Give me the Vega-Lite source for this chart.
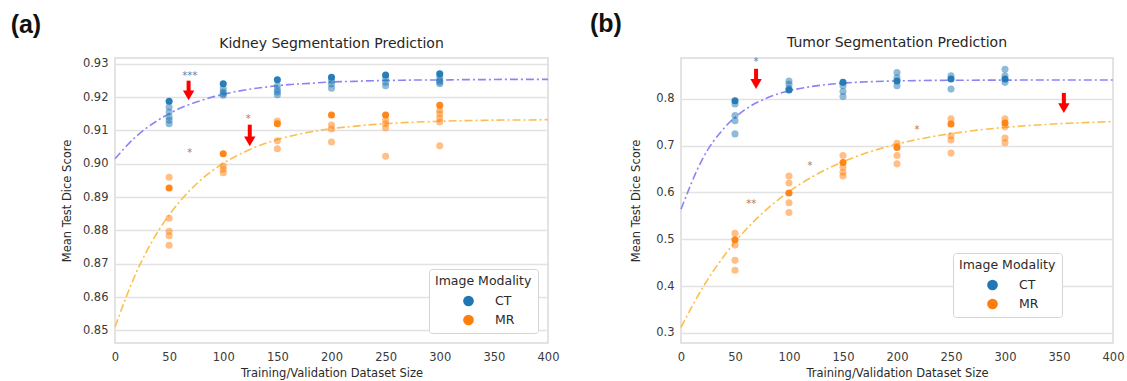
{
  "$schema": "https://vega.github.io/schema/vega-lite/v6.json",
  "background": "white",
  "padding": {"left": 10, "top": 12, "right": 5, "bottom": 2},
  "spacing": 29,
  "config": {
    "font": "DejaVu Sans",
    "view": {"stroke": "#dadada", "strokeWidth": 1.5},
    "axis": {
      "labelFont": "DejaVu Sans", "labelFontSize": 11.5, "labelColor": "#3a3a3a", "labelOverlap": false, "labelFlush": false,
      "titleFont": "DejaVu Sans", "titleFontSize": 11.5, "titleFontWeight": "normal", "titleColor": "#2a2a2a",
      "ticks": false, "domain": false, "gridColor": "#e2e2e2", "gridWidth": 1.5, "tickCount": 20
    },
    "legend": {
      "titleFont": "DejaVu Sans", "titleFontSize": 12.5, "titleFontWeight": "normal", "titleColor": "#2a2a2a", "titlePadding": 7,
      "labelFont": "DejaVu Sans", "labelFontSize": 12.5, "labelColor": "#2a2a2a",
      "strokeColor": "#d4d4d4", "fillColor": "white", "cornerRadius": 3, "padding": 6,
      "symbolType": "circle", "symbolSize": 115, "symbolOpacity": 1, "symbolOffset": 27, "labelOffset": 20, "rowPadding": 6
    },
    "title": {"font": "DejaVu Sans", "fontSize": 14, "fontWeight": "normal", "color": "#262626"}
  },
  "resolve": {"scale": {"color": "independent", "stroke": "independent", "opacity": "independent"}, "legend": {"color": "independent"}},
  "datasets": {
    "kpts": [
      {"size": 50, "score": 0.9187, "modality": "CT", "tone": "strong"},
      {"size": 50, "score": 0.917, "modality": "CT", "tone": "faint"},
      {"size": 50, "score": 0.9155, "modality": "CT", "tone": "faint"},
      {"size": 50, "score": 0.914, "modality": "CT", "tone": "faint"},
      {"size": 50, "score": 0.913, "modality": "CT", "tone": "faint"},
      {"size": 50, "score": 0.912, "modality": "CT", "tone": "faint"},
      {"size": 100, "score": 0.924, "modality": "CT", "tone": "strong"},
      {"size": 100, "score": 0.9225, "modality": "CT", "tone": "faint"},
      {"size": 100, "score": 0.9215, "modality": "CT", "tone": "faint"},
      {"size": 100, "score": 0.921, "modality": "CT", "tone": "faint"},
      {"size": 100, "score": 0.9205, "modality": "CT", "tone": "faint"},
      {"size": 150, "score": 0.9252, "modality": "CT", "tone": "strong"},
      {"size": 150, "score": 0.9234, "modality": "CT", "tone": "faint"},
      {"size": 150, "score": 0.9222, "modality": "CT", "tone": "faint"},
      {"size": 150, "score": 0.9215, "modality": "CT", "tone": "faint"},
      {"size": 150, "score": 0.9207, "modality": "CT", "tone": "faint"},
      {"size": 200, "score": 0.9259, "modality": "CT", "tone": "strong"},
      {"size": 200, "score": 0.9249, "modality": "CT", "tone": "faint"},
      {"size": 200, "score": 0.9239, "modality": "CT", "tone": "faint"},
      {"size": 200, "score": 0.9226, "modality": "CT", "tone": "faint"},
      {"size": 250, "score": 0.9266, "modality": "CT", "tone": "strong"},
      {"size": 250, "score": 0.9256, "modality": "CT", "tone": "faint"},
      {"size": 250, "score": 0.9244, "modality": "CT", "tone": "faint"},
      {"size": 250, "score": 0.9234, "modality": "CT", "tone": "faint"},
      {"size": 300, "score": 0.927, "modality": "CT", "tone": "strong"},
      {"size": 300, "score": 0.926, "modality": "CT", "tone": "faint"},
      {"size": 300, "score": 0.925, "modality": "CT", "tone": "faint"},
      {"size": 300, "score": 0.9245, "modality": "CT", "tone": "faint"},
      {"size": 300, "score": 0.924, "modality": "CT", "tone": "faint"},
      {"size": 50, "score": 0.8959, "modality": "MR", "tone": "faint"},
      {"size": 50, "score": 0.8927, "modality": "MR", "tone": "strong"},
      {"size": 50, "score": 0.8836, "modality": "MR", "tone": "faint"},
      {"size": 50, "score": 0.8797, "modality": "MR", "tone": "faint"},
      {"size": 50, "score": 0.8784, "modality": "MR", "tone": "faint"},
      {"size": 50, "score": 0.8755, "modality": "MR", "tone": "faint"},
      {"size": 100, "score": 0.903, "modality": "MR", "tone": "strong"},
      {"size": 100, "score": 0.8993, "modality": "MR", "tone": "faint"},
      {"size": 100, "score": 0.8983, "modality": "MR", "tone": "faint"},
      {"size": 100, "score": 0.8973, "modality": "MR", "tone": "faint"},
      {"size": 150, "score": 0.9128, "modality": "MR", "tone": "faint"},
      {"size": 150, "score": 0.912, "modality": "MR", "tone": "strong"},
      {"size": 150, "score": 0.9069, "modality": "MR", "tone": "faint"},
      {"size": 150, "score": 0.9045, "modality": "MR", "tone": "faint"},
      {"size": 200, "score": 0.9146, "modality": "MR", "tone": "strong"},
      {"size": 200, "score": 0.9116, "modality": "MR", "tone": "faint"},
      {"size": 200, "score": 0.9104, "modality": "MR", "tone": "faint"},
      {"size": 200, "score": 0.9065, "modality": "MR", "tone": "faint"},
      {"size": 250, "score": 0.9146, "modality": "MR", "tone": "strong"},
      {"size": 250, "score": 0.9131, "modality": "MR", "tone": "faint"},
      {"size": 250, "score": 0.912, "modality": "MR", "tone": "faint"},
      {"size": 250, "score": 0.9108, "modality": "MR", "tone": "faint"},
      {"size": 250, "score": 0.9022, "modality": "MR", "tone": "faint"},
      {"size": 300, "score": 0.9175, "modality": "MR", "tone": "strong"},
      {"size": 300, "score": 0.916, "modality": "MR", "tone": "faint"},
      {"size": 300, "score": 0.915, "modality": "MR", "tone": "faint"},
      {"size": 300, "score": 0.9137, "modality": "MR", "tone": "faint"},
      {"size": 300, "score": 0.9125, "modality": "MR", "tone": "faint"},
      {"size": 300, "score": 0.9054, "modality": "MR", "tone": "faint"}
    ],
    "kcurve": [
      {"size": 0, "score": 0.9015, "fit": "CT fit"}, {"size": 20, "score": 0.9083, "fit": "CT fit"},
      {"size": 40, "score": 0.9131, "fit": "CT fit"}, {"size": 60, "score": 0.9166, "fit": "CT fit"},
      {"size": 80, "score": 0.919, "fit": "CT fit"}, {"size": 100, "score": 0.9208, "fit": "CT fit"},
      {"size": 120, "score": 0.9221, "fit": "CT fit"}, {"size": 140, "score": 0.923, "fit": "CT fit"},
      {"size": 160, "score": 0.9237, "fit": "CT fit"}, {"size": 180, "score": 0.9241, "fit": "CT fit"},
      {"size": 200, "score": 0.9245, "fit": "CT fit"}, {"size": 220, "score": 0.9247, "fit": "CT fit"},
      {"size": 240, "score": 0.9249, "fit": "CT fit"}, {"size": 260, "score": 0.925, "fit": "CT fit"},
      {"size": 280, "score": 0.9251, "fit": "CT fit"}, {"size": 300, "score": 0.9251, "fit": "CT fit"},
      {"size": 320, "score": 0.9252, "fit": "CT fit"}, {"size": 340, "score": 0.9252, "fit": "CT fit"},
      {"size": 360, "score": 0.9253, "fit": "CT fit"}, {"size": 380, "score": 0.9253, "fit": "CT fit"},
      {"size": 400, "score": 0.9253, "fit": "CT fit"},
      {"size": 0, "score": 0.851, "fit": "MR fit"}, {"size": 20, "score": 0.8676, "fit": "MR fit"},
      {"size": 40, "score": 0.8798, "fit": "MR fit"}, {"size": 60, "score": 0.8887, "fit": "MR fit"},
      {"size": 80, "score": 0.8953, "fit": "MR fit"}, {"size": 100, "score": 0.9001, "fit": "MR fit"},
      {"size": 120, "score": 0.9036, "fit": "MR fit"}, {"size": 140, "score": 0.9062, "fit": "MR fit"},
      {"size": 160, "score": 0.9081, "fit": "MR fit"}, {"size": 180, "score": 0.9095, "fit": "MR fit"},
      {"size": 200, "score": 0.9105, "fit": "MR fit"}, {"size": 220, "score": 0.9112, "fit": "MR fit"},
      {"size": 240, "score": 0.9118, "fit": "MR fit"}, {"size": 260, "score": 0.9122, "fit": "MR fit"},
      {"size": 280, "score": 0.9125, "fit": "MR fit"}, {"size": 300, "score": 0.9127, "fit": "MR fit"},
      {"size": 320, "score": 0.9129, "fit": "MR fit"}, {"size": 340, "score": 0.913, "fit": "MR fit"},
      {"size": 360, "score": 0.9131, "fit": "MR fit"}, {"size": 380, "score": 0.9131, "fit": "MR fit"},
      {"size": 400, "score": 0.9132, "fit": "MR fit"}
    ],
    "kstars": [
      {"size": 69, "score": 0.9262, "label": "***", "modality": "CT"},
      {"size": 69, "score": 0.9032, "label": "*", "modality": "MR"},
      {"size": 123, "score": 0.9134, "label": "*", "modality": "MR"}
    ],
    "karrows": [
      {"size": 68, "top": 0.9249, "base": 0.9205},
      {"size": 124.5, "top": 0.9117, "base": 0.9067}
    ],
    "tpts": [
      {"size": 50, "score": 0.7957, "modality": "CT", "tone": "strong"},
      {"size": 50, "score": 0.789, "modality": "CT", "tone": "faint"},
      {"size": 50, "score": 0.764, "modality": "CT", "tone": "faint"},
      {"size": 50, "score": 0.753, "modality": "CT", "tone": "faint"},
      {"size": 50, "score": 0.725, "modality": "CT", "tone": "faint"},
      {"size": 100, "score": 0.838, "modality": "CT", "tone": "faint"},
      {"size": 100, "score": 0.831, "modality": "CT", "tone": "faint"},
      {"size": 100, "score": 0.822, "modality": "CT", "tone": "faint"},
      {"size": 100, "score": 0.8185, "modality": "CT", "tone": "strong"},
      {"size": 150, "score": 0.835, "modality": "CT", "tone": "strong"},
      {"size": 150, "score": 0.828, "modality": "CT", "tone": "faint"},
      {"size": 150, "score": 0.8155, "modality": "CT", "tone": "faint"},
      {"size": 150, "score": 0.805, "modality": "CT", "tone": "faint"},
      {"size": 200, "score": 0.856, "modality": "CT", "tone": "faint"},
      {"size": 200, "score": 0.845, "modality": "CT", "tone": "faint"},
      {"size": 200, "score": 0.838, "modality": "CT", "tone": "strong"},
      {"size": 200, "score": 0.828, "modality": "CT", "tone": "faint"},
      {"size": 250, "score": 0.849, "modality": "CT", "tone": "faint"},
      {"size": 250, "score": 0.842, "modality": "CT", "tone": "strong"},
      {"size": 250, "score": 0.8206, "modality": "CT", "tone": "faint"},
      {"size": 300, "score": 0.863, "modality": "CT", "tone": "faint"},
      {"size": 300, "score": 0.849, "modality": "CT", "tone": "faint"},
      {"size": 300, "score": 0.842, "modality": "CT", "tone": "strong"},
      {"size": 300, "score": 0.835, "modality": "CT", "tone": "faint"},
      {"size": 50, "score": 0.513, "modality": "MR", "tone": "faint"},
      {"size": 50, "score": 0.499, "modality": "MR", "tone": "strong"},
      {"size": 50, "score": 0.488, "modality": "MR", "tone": "faint"},
      {"size": 50, "score": 0.455, "modality": "MR", "tone": "faint"},
      {"size": 50, "score": 0.434, "modality": "MR", "tone": "faint"},
      {"size": 100, "score": 0.635, "modality": "MR", "tone": "faint"},
      {"size": 100, "score": 0.62, "modality": "MR", "tone": "faint"},
      {"size": 100, "score": 0.599, "modality": "MR", "tone": "strong"},
      {"size": 100, "score": 0.578, "modality": "MR", "tone": "faint"},
      {"size": 100, "score": 0.557, "modality": "MR", "tone": "faint"},
      {"size": 150, "score": 0.679, "modality": "MR", "tone": "faint"},
      {"size": 150, "score": 0.664, "modality": "MR", "tone": "strong"},
      {"size": 150, "score": 0.654, "modality": "MR", "tone": "faint"},
      {"size": 150, "score": 0.643, "modality": "MR", "tone": "faint"},
      {"size": 150, "score": 0.635, "modality": "MR", "tone": "faint"},
      {"size": 200, "score": 0.705, "modality": "MR", "tone": "faint"},
      {"size": 200, "score": 0.696, "modality": "MR", "tone": "strong"},
      {"size": 200, "score": 0.679, "modality": "MR", "tone": "faint"},
      {"size": 200, "score": 0.661, "modality": "MR", "tone": "faint"},
      {"size": 250, "score": 0.757, "modality": "MR", "tone": "faint"},
      {"size": 250, "score": 0.746, "modality": "MR", "tone": "strong"},
      {"size": 250, "score": 0.721, "modality": "MR", "tone": "faint"},
      {"size": 250, "score": 0.712, "modality": "MR", "tone": "faint"},
      {"size": 250, "score": 0.684, "modality": "MR", "tone": "faint"},
      {"size": 300, "score": 0.757, "modality": "MR", "tone": "faint"},
      {"size": 300, "score": 0.748, "modality": "MR", "tone": "strong"},
      {"size": 300, "score": 0.74, "modality": "MR", "tone": "faint"},
      {"size": 300, "score": 0.716, "modality": "MR", "tone": "faint"},
      {"size": 300, "score": 0.706, "modality": "MR", "tone": "faint"}
    ],
    "tcurve": [
      {"size": 0, "score": 0.564, "fit": "CT fit"}, {"size": 20, "score": 0.6719, "fit": "CT fit"},
      {"size": 40, "score": 0.7376, "fit": "CT fit"}, {"size": 60, "score": 0.7777, "fit": "CT fit"},
      {"size": 80, "score": 0.802, "fit": "CT fit"}, {"size": 100, "score": 0.8169, "fit": "CT fit"},
      {"size": 120, "score": 0.8259, "fit": "CT fit"}, {"size": 140, "score": 0.8314, "fit": "CT fit"},
      {"size": 160, "score": 0.8348, "fit": "CT fit"}, {"size": 180, "score": 0.8368, "fit": "CT fit"},
      {"size": 200, "score": 0.8381, "fit": "CT fit"}, {"size": 220, "score": 0.8388, "fit": "CT fit"},
      {"size": 240, "score": 0.8393, "fit": "CT fit"}, {"size": 260, "score": 0.8396, "fit": "CT fit"},
      {"size": 280, "score": 0.8397, "fit": "CT fit"}, {"size": 300, "score": 0.8398, "fit": "CT fit"},
      {"size": 320, "score": 0.8399, "fit": "CT fit"}, {"size": 340, "score": 0.8399, "fit": "CT fit"},
      {"size": 360, "score": 0.84, "fit": "CT fit"}, {"size": 380, "score": 0.84, "fit": "CT fit"},
      {"size": 400, "score": 0.84, "fit": "CT fit"},
      {"size": 0, "score": 0.312, "fit": "MR fit"}, {"size": 20, "score": 0.3964, "fit": "MR fit"},
      {"size": 40, "score": 0.4649, "fit": "MR fit"}, {"size": 60, "score": 0.5204, "fit": "MR fit"},
      {"size": 80, "score": 0.5653, "fit": "MR fit"}, {"size": 100, "score": 0.6018, "fit": "MR fit"},
      {"size": 120, "score": 0.6314, "fit": "MR fit"}, {"size": 140, "score": 0.6553, "fit": "MR fit"},
      {"size": 160, "score": 0.6748, "fit": "MR fit"}, {"size": 180, "score": 0.6905, "fit": "MR fit"},
      {"size": 200, "score": 0.7033, "fit": "MR fit"}, {"size": 220, "score": 0.7137, "fit": "MR fit"},
      {"size": 240, "score": 0.722, "fit": "MR fit"}, {"size": 260, "score": 0.7288, "fit": "MR fit"},
      {"size": 280, "score": 0.7344, "fit": "MR fit"}, {"size": 300, "score": 0.7388, "fit": "MR fit"},
      {"size": 320, "score": 0.7425, "fit": "MR fit"}, {"size": 340, "score": 0.7454, "fit": "MR fit"},
      {"size": 360, "score": 0.7478, "fit": "MR fit"}, {"size": 380, "score": 0.7497, "fit": "MR fit"},
      {"size": 400, "score": 0.7513, "fit": "MR fit"}
    ],
    "tstars": [
      {"size": 69.5, "score": 0.878, "label": "*", "modality": "CT"},
      {"size": 65, "score": 0.576, "label": "**", "modality": "MR"},
      {"size": 119.5, "score": 0.657, "label": "*", "modality": "MR"},
      {"size": 218.5, "score": 0.734, "label": "*", "modality": "MR"}
    ],
    "tarrows": [
      {"size": 69.5, "top": 0.864, "base": 0.8314},
      {"size": 354.5, "top": 0.8125, "base": 0.78}
    ]
  },
  "hconcat": [
    {
      "title": {"text": "(a)", "anchor": "start", "font": "Liberation Sans", "fontWeight": "bold", "fontSize": 25, "color": "#111111", "offset": -2, "dx": -50},
      "resolve": {"scale": {"color": "independent", "stroke": "independent", "opacity": "independent"}, "legend": {"color": "independent"}},
      "vconcat": [
        {
          "title": {"text": "Kidney Segmentation Prediction", "offset": 7},
          "width": 433, "height": 285,
          "layer": [
            {
              "data": {"name": "kcurve"},
              "mark": {"type": "line", "strokeDash": [8, 3, 2, 3], "strokeWidth": 1.6, "interpolate": "monotone"},
              "encoding": {
                "x": {"field": "size", "type": "quantitative", "scale": {"domain": [0, 400], "nice": false}, "axis": {"values": [0, 50, 100, 150, 200, 250, 300, 350, 400], "grid": false, "labelFlush": false, "title": "Training/Validation Dataset Size", "labelPadding": 8, "titlePadding": 5}},
                "y": {"field": "score", "type": "quantitative", "scale": {"domain": [0.8462, 0.9317], "nice": false, "zero": false}, "axis": {"values": [0.85, 0.86, 0.87, 0.88, 0.89, 0.9, 0.91, 0.92, 0.93], "tickCount": 20, "format": ".2f", "labelOverlap": false, "labelFlush": false, "title": "Mean Test Dice Score", "labelPadding": 7, "titlePadding": 10}},
                "stroke": {"field": "fit", "type": "nominal", "scale": {"domain": ["CT fit", "MR fit"], "range": ["#8a84f7", "#fdbe4c"]}, "legend": null}
              }
            },
            {
              "data": {"name": "kpts"},
              "mark": {"type": "circle", "size": 50},
              "encoding": {
                "x": {"field": "size", "type": "quantitative"},
                "y": {"field": "score", "type": "quantitative"},
                "color": {"field": "modality", "type": "nominal", "scale": {"domain": ["CT", "MR"], "range": ["#1f77b4", "#ff7f0e"]}, "legend": {"title": "Image Modality", "orient": "none", "legendX": 314, "legendY": 211}},
                "opacity": {"field": "tone", "type": "nominal", "scale": {"domain": ["strong", "faint"], "range": [0.95, 0.5]}, "legend": null}
              }
            },
            {
              "data": {"name": "kstars"},
              "transform": [{"filter": "datum.modality == 'CT'"}],
              "mark": {"type": "text", "fontSize": 10, "color": "#5b7fb3", "baseline": "middle"},
              "encoding": {"x": {"field": "size", "type": "quantitative"}, "y": {"field": "score", "type": "quantitative"}, "text": {"field": "label"}}
            },
            {
              "data": {"name": "kstars"},
              "transform": [{"filter": "datum.modality == 'MR'"}],
              "mark": {"type": "text", "fontSize": 10, "color": "#c0763f", "baseline": "middle"},
              "encoding": {"x": {"field": "size", "type": "quantitative"}, "y": {"field": "score", "type": "quantitative"}, "text": {"field": "label"}}
            },
            {
              "data": {"name": "karrows"},
              "mark": {"type": "rule", "color": "#ff0000", "strokeWidth": 4},
              "encoding": {"x": {"field": "size", "type": "quantitative"}, "y": {"field": "top", "type": "quantitative"}, "y2": {"field": "base"}}
            },
            {
              "data": {"name": "karrows"},
              "mark": {"type": "point", "shape": "triangle-down", "filled": true, "color": "#ff0000", "opacity": 1, "size": 130},
              "encoding": {"x": {"field": "size", "type": "quantitative"}, "y": {"field": "base", "type": "quantitative"}}
            }
          ]
        }
      ]
    },
    {
      "title": {"text": "(b)", "anchor": "start", "font": "Liberation Sans", "fontWeight": "bold", "fontSize": 25, "color": "#111111", "offset": -2, "dx": -40},
      "resolve": {"scale": {"color": "independent", "stroke": "independent", "opacity": "independent"}, "legend": {"color": "independent"}},
      "vconcat": [
        {
          "title": {"text": "Tumor Segmentation Prediction", "offset": 7},
          "width": 432, "height": 285,
          "layer": [
            {
              "data": {"name": "tcurve"},
              "mark": {"type": "line", "strokeDash": [8, 3, 2, 3], "strokeWidth": 1.6, "interpolate": "monotone"},
              "encoding": {
                "x": {"field": "size", "type": "quantitative", "scale": {"domain": [0, 400], "nice": false}, "axis": {"values": [0, 50, 100, 150, 200, 250, 300, 350, 400], "grid": false, "labelFlush": false, "title": "Training/Validation Dataset Size", "labelPadding": 8, "titlePadding": 5}},
                "y": {"field": "score", "type": "quantitative", "scale": {"domain": [0.2786, 0.887], "nice": false, "zero": false}, "axis": {"values": [0.3, 0.4, 0.5, 0.6, 0.7, 0.8], "tickCount": 20, "format": ".1f", "labelOverlap": false, "labelFlush": false, "title": "Mean Test Dice Score", "labelPadding": 7, "titlePadding": 14}},
                "stroke": {"field": "fit", "type": "nominal", "scale": {"domain": ["CT fit", "MR fit"], "range": ["#8a84f7", "#fdbe4c"]}, "legend": null}
              }
            },
            {
              "data": {"name": "tpts"},
              "mark": {"type": "circle", "size": 50},
              "encoding": {
                "x": {"field": "size", "type": "quantitative"},
                "y": {"field": "score", "type": "quantitative"},
                "color": {"field": "modality", "type": "nominal", "scale": {"domain": ["CT", "MR"], "range": ["#1f77b4", "#ff7f0e"]}, "legend": {"title": "Image Modality", "orient": "none", "legendX": 272, "legendY": 195}},
                "opacity": {"field": "tone", "type": "nominal", "scale": {"domain": ["strong", "faint"], "range": [0.95, 0.5]}, "legend": null}
              }
            },
            {
              "data": {"name": "tstars"},
              "transform": [{"filter": "datum.modality == 'CT'"}],
              "mark": {"type": "text", "fontSize": 10, "color": "#5b7fb3", "baseline": "middle"},
              "encoding": {"x": {"field": "size", "type": "quantitative"}, "y": {"field": "score", "type": "quantitative"}, "text": {"field": "label"}}
            },
            {
              "data": {"name": "tstars"},
              "transform": [{"filter": "datum.modality == 'MR'"}],
              "mark": {"type": "text", "fontSize": 10, "color": "#c0763f", "baseline": "middle"},
              "encoding": {"x": {"field": "size", "type": "quantitative"}, "y": {"field": "score", "type": "quantitative"}, "text": {"field": "label"}}
            },
            {
              "data": {"name": "tarrows"},
              "mark": {"type": "rule", "color": "#ff0000", "strokeWidth": 4},
              "encoding": {"x": {"field": "size", "type": "quantitative"}, "y": {"field": "top", "type": "quantitative"}, "y2": {"field": "base"}}
            },
            {
              "data": {"name": "tarrows"},
              "mark": {"type": "point", "shape": "triangle-down", "filled": true, "color": "#ff0000", "opacity": 1, "size": 130},
              "encoding": {"x": {"field": "size", "type": "quantitative"}, "y": {"field": "base", "type": "quantitative"}}
            }
          ]
        }
      ]
    }
  ]
}
